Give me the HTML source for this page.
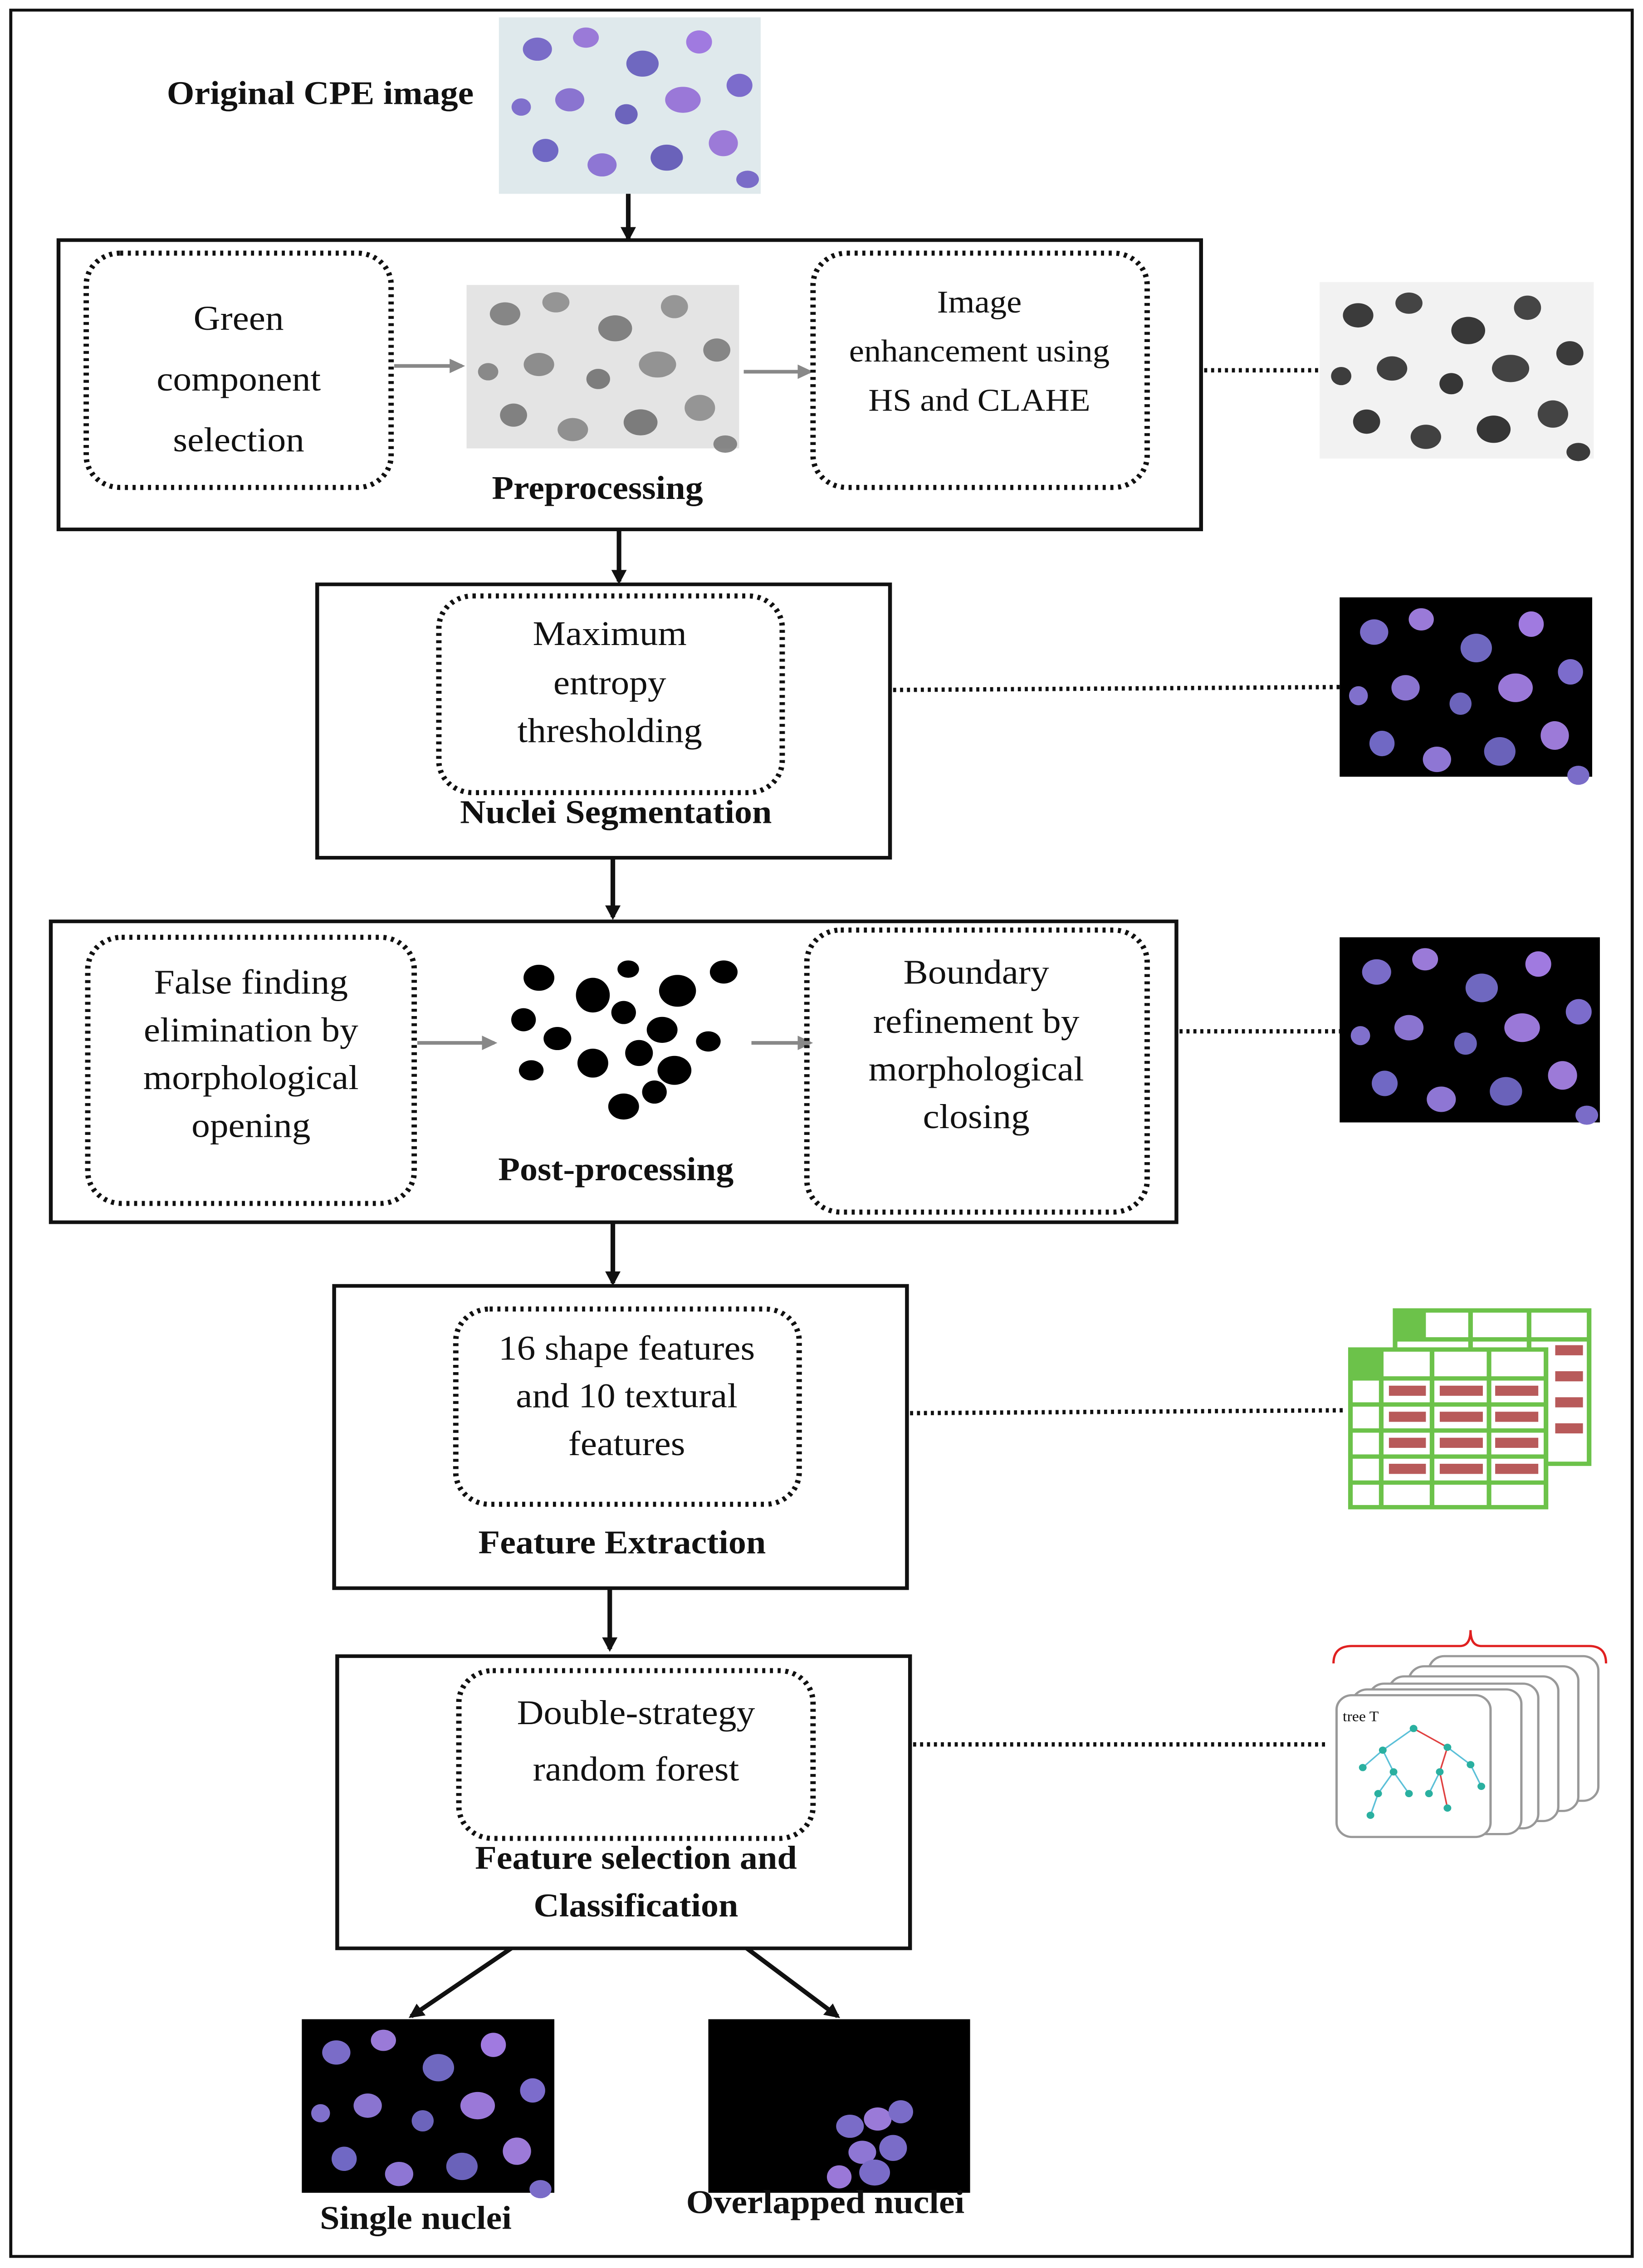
<!DOCTYPE html>
<html><head><meta charset="utf-8"><style>
html,body{margin:0;padding:0;background:#fff;overflow:hidden;width:100%;height:100%;}
svg{display:block;position:absolute;left:0;top:0;width:100vw;height:100vh;}
text{font-family:"Liberation Serif",serif;fill:#111;}
.t{font-size:24px;text-anchor:middle;}
.s{font-size:22px;text-anchor:middle;}
.b{font-size:23px;font-weight:bold;text-anchor:middle;}
.box{fill:none;stroke:#111;stroke-width:2.5;}
.dot{fill:none;stroke:#111;stroke-width:3.5;stroke-dasharray:2 3;}
.dl{stroke:#111;stroke-width:3;stroke-dasharray:2 2.5;}
.ar{stroke:#111;stroke-width:3;}
.ga{stroke:#888;stroke-width:2.5;}
</style></head><body>
<svg viewBox="0 0 1067 1568" preserveAspectRatio="none" xmlns="http://www.w3.org/2000/svg">
<defs>
<marker id="ah" markerWidth="10" markerHeight="10" refX="8" refY="5" orient="auto" markerUnits="userSpaceOnUse"><path d="M0,0 L10,5 L0,10 z" fill="#111"/></marker>
<marker id="gh" markerWidth="10" markerHeight="10" refX="8" refY="5" orient="auto" markerUnits="userSpaceOnUse"><path d="M0,0 L10,5 L0,10 z" fill="#888"/></marker>
<g id="purple">
<ellipse cx="20" cy="20" rx="9" ry="8" fill="#7a6cc8"/><ellipse cx="50" cy="12" rx="8" ry="7" fill="#9a7ad8"/>
<ellipse cx="85" cy="30" rx="10" ry="9" fill="#6f68c0"/><ellipse cx="120" cy="15" rx="8" ry="8" fill="#a07ae0"/>
<ellipse cx="40" cy="55" rx="9" ry="8" fill="#8a74d0"/><ellipse cx="75" cy="65" rx="7" ry="7" fill="#6c64bc"/>
<ellipse cx="110" cy="55" rx="11" ry="9" fill="#9a78d8"/><ellipse cx="145" cy="45" rx="8" ry="8" fill="#7c6ccc"/>
<ellipse cx="25" cy="90" rx="8" ry="8" fill="#7068c4"/><ellipse cx="60" cy="100" rx="9" ry="8" fill="#8e76d4"/>
<ellipse cx="100" cy="95" rx="10" ry="9" fill="#6a62ba"/><ellipse cx="135" cy="85" rx="9" ry="9" fill="#9c7ad8"/>
<ellipse cx="150" cy="110" rx="7" ry="6" fill="#7a6cc8"/><ellipse cx="10" cy="60" rx="6" ry="6" fill="#8070cc"/>
</g>
</defs>
<rect x="7" y="7" width="1053" height="1553" fill="none" stroke="#111" stroke-width="2"/>

<text x="208" y="72" class="b">Original CPE image</text>
<rect x="324" y="12" width="170" height="122" fill="#dfe9ec"/>
<g transform="translate(328,14) scale(1.05,1)"><use href="#purple"/></g>
<line x1="408" y1="134" x2="408" y2="165" class="ar" marker-end="url(#ah)"/>

<rect x="38" y="166" width="742" height="200" class="box"/>
<rect x="56" y="175" width="198" height="162" rx="22" class="dot"/>
<text x="155" y="228" class="t">Green</text><text x="155" y="270" class="t">component</text><text x="155" y="312" class="t">selection</text>
<line x1="256" y1="253" x2="300" y2="253" class="ga" marker-end="url(#gh)"/>
<rect x="303" y="197" width="177" height="113" fill="#e4e4e4"/>
<g transform="translate(306,197) scale(1.1,1)" opacity="0.85"><use href="#purple" style="filter:grayscale(1)"/></g>
<line x1="483" y1="257" x2="526" y2="257" class="ga" marker-end="url(#gh)"/>
<rect x="528" y="175" width="217" height="162" rx="22" class="dot"/>
<text x="636" y="216" class="s">Image</text><text x="636" y="250" class="s">enhancement using</text><text x="636" y="284" class="s">HS and CLAHE</text>
<text x="388" y="345" class="b">Preprocessing</text>
<line x1="782" y1="256" x2="856" y2="256" class="dl"/>
<rect x="857" y="195" width="178" height="122" fill="#f2f2f2"/>
<g transform="translate(860,197) scale(1.1,1.05)"><use href="#purple" style="filter:grayscale(1) brightness(0.5)"/></g>

<line x1="402" y1="366" x2="402" y2="402" class="ar" marker-end="url(#ah)"/>
<rect x="206" y="404" width="372" height="189" class="box"/>
<rect x="285" y="412" width="223" height="136" rx="22" class="dot"/>
<text x="396" y="446" class="t">Maximum</text><text x="396" y="480" class="t">entropy</text><text x="396" y="513" class="t">thresholding</text>
<text x="400" y="569" class="b">Nuclei Segmentation</text>
<line x1="580" y1="477" x2="870" y2="475" class="dl"/>
<rect x="870" y="413" width="164" height="124" fill="#000"/>
<g transform="translate(872,415) scale(1.02,1.1)"><use href="#purple"/></g>

<line x1="398" y1="593" x2="398" y2="634" class="ar" marker-end="url(#ah)"/>
<rect x="33" y="637" width="731" height="208" class="box"/>
<rect x="57" y="648" width="212" height="184" rx="22" class="dot"/>
<text x="163" y="687" class="t">False finding</text><text x="163" y="720" class="t">elimination by</text><text x="163" y="753" class="t">morphological</text><text x="163" y="786" class="t">opening</text>
<line x1="271" y1="721" x2="321" y2="721" class="ga" marker-end="url(#gh)"/>
<g fill="#000">
<ellipse cx="350" cy="676" rx="10" ry="9"/><ellipse cx="385" cy="688" rx="11" ry="12"/><ellipse cx="408" cy="670" rx="7" ry="6"/>
<ellipse cx="440" cy="685" rx="12" ry="11"/><ellipse cx="470" cy="672" rx="9" ry="8"/><ellipse cx="340" cy="705" rx="8" ry="8"/>
<ellipse cx="362" cy="718" rx="9" ry="8"/><ellipse cx="405" cy="700" rx="8" ry="8"/><ellipse cx="430" cy="712" rx="10" ry="9"/>
<ellipse cx="385" cy="735" rx="10" ry="10"/><ellipse cx="415" cy="728" rx="9" ry="9"/><ellipse cx="438" cy="740" rx="11" ry="10"/>
<ellipse cx="345" cy="740" rx="8" ry="7"/><ellipse cx="460" cy="720" rx="8" ry="7"/><ellipse cx="405" cy="765" rx="10" ry="9"/><ellipse cx="425" cy="755" rx="8" ry="8"/>
</g>
<line x1="488" y1="721" x2="526" y2="721" class="ga" marker-end="url(#gh)"/>
<rect x="524" y="643" width="221" height="195" rx="22" class="dot"/>
<text x="634" y="680" class="t">Boundary</text><text x="634" y="714" class="t">refinement by</text><text x="634" y="747" class="t">morphological</text><text x="634" y="780" class="t">closing</text>
<text x="400" y="816" class="b">Post-processing</text>
<line x1="766" y1="713" x2="870" y2="713" class="dl"/>
<rect x="870" y="648" width="169" height="128" fill="#000"/>
<g transform="translate(873,650) scale(1.05,1.1)"><use href="#purple"/></g>

<line x1="398" y1="845" x2="398" y2="887" class="ar" marker-end="url(#ah)"/>
<rect x="217" y="889" width="372" height="209" class="box"/>
<rect x="296" y="905" width="223" height="135" rx="22" class="dot"/>
<text x="407" y="940" class="t">16 shape features</text><text x="407" y="973" class="t">and 10 textural</text><text x="407" y="1006" class="t">features</text>
<text x="404" y="1074" class="b">Feature Extraction</text>
<line x1="591" y1="977" x2="873" y2="975" class="dl"/>
<g stroke="#6cc24a" stroke-width="3" fill="#fff">
<rect x="906" y="906" width="126" height="106"/>
<line x1="906" y1="926" x2="1032" y2="926"/><line x1="955" y1="906" x2="955" y2="1012"/><line x1="993" y1="906" x2="993" y2="1012"/>
<rect x="877" y="933" width="127" height="109"/>
<line x1="877" y1="953" x2="1004" y2="953"/><line x1="877" y1="971" x2="1004" y2="971"/><line x1="877" y1="989" x2="1004" y2="989"/><line x1="877" y1="1007" x2="1004" y2="1007"/><line x1="877" y1="1025" x2="1004" y2="1025"/>
<line x1="897" y1="933" x2="897" y2="1042"/><line x1="930" y1="933" x2="930" y2="1042"/><line x1="967" y1="933" x2="967" y2="1042"/>
</g>
<rect x="906" y="906" width="20" height="20" fill="#6cc24a"/><rect x="877" y="933" width="20" height="20" fill="#6cc24a"/>
<g fill="#b85a5a">
<rect x="902" y="958" width="24" height="7"/><rect x="935" y="958" width="28" height="7"/><rect x="971" y="958" width="28" height="7"/>
<rect x="902" y="976" width="24" height="7"/><rect x="935" y="976" width="28" height="7"/><rect x="971" y="976" width="28" height="7"/>
<rect x="902" y="994" width="24" height="7"/><rect x="935" y="994" width="28" height="7"/><rect x="971" y="994" width="28" height="7"/>
<rect x="902" y="1012" width="24" height="7"/><rect x="935" y="1012" width="28" height="7"/><rect x="971" y="1012" width="28" height="7"/>
<rect x="1010" y="930" width="18" height="7"/><rect x="1010" y="948" width="18" height="7"/><rect x="1010" y="966" width="18" height="7"/><rect x="1010" y="984" width="18" height="7"/>
</g>

<line x1="396" y1="1098" x2="396" y2="1140" class="ar" marker-end="url(#ah)"/>
<rect x="219" y="1145" width="372" height="202" class="box"/>
<rect x="298" y="1155" width="230" height="116" rx="22" class="dot"/>
<text x="413" y="1192" class="t">Double-strategy</text><text x="413" y="1231" class="t">random forest</text>
<text x="413" y="1292" class="b">Feature selection and</text><text x="413" y="1325" class="b">Classification</text>
<line x1="593" y1="1206" x2="862" y2="1206" class="dl"/>
<path d="M866,1150 Q866,1138 878,1138 L948,1138 Q955,1138 955,1127 Q955,1138 962,1138 L1032,1138 Q1043,1138 1043,1150" fill="none" stroke="#e02020" stroke-width="1.5"/>
<g fill="#fff" stroke="#999" stroke-width="1.5">
<rect x="928" y="1145" width="110" height="100" rx="10"/><rect x="915" y="1152" width="110" height="100" rx="10"/>
<rect x="902" y="1159" width="110" height="100" rx="10"/><rect x="889" y="1164" width="110" height="100" rx="10"/>
<rect x="878" y="1168" width="110" height="100" rx="10"/><rect x="868" y="1172" width="100" height="98" rx="10"/>
</g>
<text x="872" y="1190" style="font-size:10px">tree T</text>
<g stroke="#5bc0d8" stroke-width="1"><line x1="918" y1="1195" x2="898" y2="1210"/><line x1="898" y1="1210" x2="885" y2="1222"/><line x1="898" y1="1210" x2="905" y2="1225"/><line x1="905" y1="1225" x2="895" y2="1240"/><line x1="905" y1="1225" x2="915" y2="1240"/><line x1="895" y1="1240" x2="890" y2="1255"/></g>
<g stroke="#e04040" stroke-width="1"><line x1="918" y1="1195" x2="940" y2="1208"/><line x1="940" y1="1208" x2="935" y2="1225"/><line x1="935" y1="1225" x2="940" y2="1250"/></g>
<g stroke="#5bc0d8" stroke-width="1"><line x1="940" y1="1208" x2="955" y2="1220"/><line x1="955" y1="1220" x2="962" y2="1235"/><line x1="935" y1="1225" x2="928" y2="1240"/></g>
<g fill="#2ab0a0"><circle cx="918" cy="1195" r="2.5"/><circle cx="898" cy="1210" r="2.5"/><circle cx="885" cy="1222" r="2.5"/><circle cx="905" cy="1225" r="2.5"/><circle cx="895" cy="1240" r="2.5"/><circle cx="915" cy="1240" r="2.5"/><circle cx="890" cy="1255" r="2.5"/><circle cx="940" cy="1208" r="2.5"/><circle cx="935" cy="1225" r="2.5"/><circle cx="955" cy="1220" r="2.5"/><circle cx="962" cy="1235" r="2.5"/><circle cx="928" cy="1240" r="2.5"/><circle cx="940" cy="1250" r="2.5"/></g>

<line x1="332" y1="1347" x2="267" y2="1394" class="ar" marker-end="url(#ah)"/>
<line x1="485" y1="1347" x2="544" y2="1394" class="ar" marker-end="url(#ah)"/>
<rect x="196" y="1396" width="164" height="120" fill="#000"/>
<g transform="translate(198,1398) scale(1.02,1.05)"><use href="#purple"/></g>
<rect x="460" y="1396" width="170" height="120" fill="#000"/>
<g fill="#7a6cc8"><ellipse cx="552" cy="1470" rx="9" ry="8"/><ellipse cx="570" cy="1465" rx="9" ry="8" fill="#9a7ad8"/><ellipse cx="585" cy="1460" rx="8" ry="8"/><ellipse cx="560" cy="1488" rx="9" ry="8" fill="#8e76d4"/><ellipse cx="580" cy="1485" rx="9" ry="9"/><ellipse cx="568" cy="1502" rx="10" ry="9"/><ellipse cx="545" cy="1505" rx="8" ry="8" fill="#9a78d8"/></g>
<text x="270" y="1541" class="b">Single nuclei</text>
<text x="536" y="1530" class="b">Overlapped nuclei</text>
</svg>
</body></html>
